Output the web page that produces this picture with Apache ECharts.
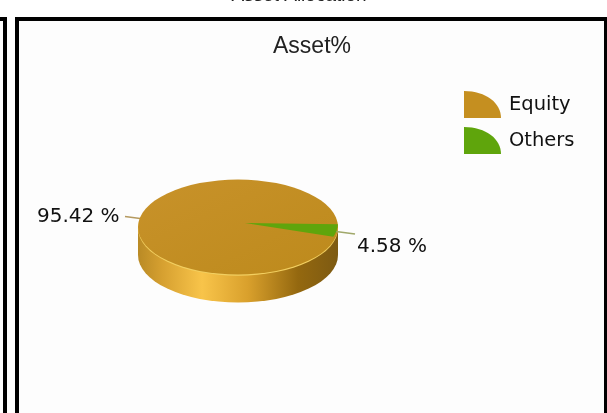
<!DOCTYPE html>
<html><head><meta charset="utf-8">
<style>html,body{margin:0;padding:0;background:#fff}#c{width:607px;height:413px}</style>
<script src="https://cdn.jsdelivr.net/npm/echarts@6/dist/echarts.min.js"></script>
</head><body><div id="c"></div>
<script>
const categories = ['Equity', 'Others'];
const values = [95.42, 4.58];
const labels = ['95.42 %', '4.58 %'];
const colors = ['#c58f20', '#5fa50c'];

const chart = echarts.init(document.getElementById('c'), null, {renderer: 'canvas'});
const CX = 238, CY = 227, RX = 100, RY = 47.5, DEPTH = 28;
const total = values.reduce((a, b) => a + b, 0);
const othersSpan = values[1] / total * Math.PI * 2;
const othersStart = 0.03;

function renderEquity() {
  const wallFill = new echarts.graphic.LinearGradient(0, 0, 1, 0, [
    {offset: 0, color: '#b98a25'}, {offset: 0.12, color: '#d6a030'},
    {offset: 0.32, color: '#f8c44a'}, {offset: 0.55, color: '#d9a02c'},
    {offset: 0.8, color: '#94680f'}, {offset: 1, color: '#7d5a12'}]);
  const topFill = new echarts.graphic.LinearGradient(0, 0, 1, 1, [
    {offset: 0, color: '#c8922a'}, {offset: 1, color: '#bd8a1c'}]);
  return {type: 'group', children: [
    {type: 'line', shape: {x1: 125, y1: 216.5, x2: 144, y2: 219},
      style: {stroke: '#b59a60', lineWidth: 1.5}},
    {type: 'rect', shape: {x: CX - RX, y: CY, width: RX * 2, height: DEPTH},
      style: {fill: wallFill}},
    {type: 'group', x: CX, y: CY + DEPTH, scaleY: RY / RX, children: [
      {type: 'circle', shape: {cx: 0, cy: 0, r: RX}, style: {fill: wallFill}}]},
    {type: 'group', x: CX, y: CY + 1.2, scaleY: RY / RX, children: [
      {type: 'circle', shape: {cx: 0, cy: 0, r: RX}, style: {fill: '#f2cf60'}}]},
    {type: 'group', x: CX, y: CY, scaleY: RY / RX, children: [
      {type: 'circle', shape: {cx: 0, cy: 0, r: RX}, style: {fill: topFill}}]},
    {type: 'text', x: 37, y: 217, style: {text: labels[0], fill: '#111',
      font: '20px "DejaVu Sans"', textAlign: 'left', textVerticalAlign: 'middle'}}
  ]};
}
function renderOthers() {
  return {type: 'group', children: [
    {type: 'line', shape: {x1: 336, y1: 231.5, x2: 355, y2: 234},
      style: {stroke: '#a0a86a', lineWidth: 1.5}},
    {type: 'group', x: CX + 7, y: CY - 4, scaleY: RY / RX, children: [
      {type: 'sector', shape: {cx: 0, cy: 0, r: RX - 7, r0: 0,
        startAngle: othersStart, endAngle: othersStart + othersSpan},
        style: {fill: '#5fa50c'}}]},
    {type: 'text', x: 357, y: 247, style: {text: labels[1], fill: '#111',
      font: '20px "DejaVu Sans"', textAlign: 'left', textVerticalAlign: 'middle'}}
  ]};
}
const QUARTER = 'path://M0 0 C60 0 100 45 100 100 L0 100 Z';
chart.setOption({
  animation: false,
  backgroundColor: '#fff',
  graphic: {elements: [
    {type: 'rect', silent: true, z: -10, shape: {x: 0, y: 17, width: 7, height: 400}, style: {fill: '#000'}},
    {type: 'rect', silent: true, z: -9, shape: {x: 0, y: 21, width: 3, height: 400}, style: {fill: '#fff'}},
    {type: 'rect', silent: true, z: -10, shape: {x: 15, y: 17, width: 592, height: 400}, style: {fill: '#000'}},
    {type: 'rect', silent: true, z: -9, shape: {x: 19, y: 21, width: 585, height: 400}, style: {fill: '#fdfdfd'}},
    {type: 'text', silent: true, z: 5, x: 299, y: -13.5, style: {text: 'Asset Allocation', fill: '#222',
      font: '19px "Liberation Sans"', textAlign: 'center'}}
  ]},
  title: {text: 'Asset%', left: 307, top: 30, textAlign: 'center',
    textStyle: {fontFamily: 'Liberation Sans', fontSize: 23, fontWeight: 'normal', color: '#222'}},
  legend: {orient: 'vertical', left: 459, top: 86, itemWidth: 37, itemHeight: 27, itemGap: 9,
    symbolKeepAspect: false,
    data: categories.map((name, i) => ({name, icon: QUARTER, itemStyle: {color: colors[i]}})),
    textStyle: {fontFamily: 'DejaVu Sans', fontSize: 19.5, color: '#111', padding: [2, 0, 0, 3]}},
  series: [
    {type: 'custom', name: categories[0], coordinateSystem: 'none', data: [values[0]],
      itemStyle: {color: colors[0]}, renderItem: renderEquity, silent: true, z: 2},
    {type: 'custom', name: categories[1], coordinateSystem: 'none', data: [values[1]],
      itemStyle: {color: colors[1]}, renderItem: renderOthers, silent: true, z: 3}
  ]
});
</script></body></html>
